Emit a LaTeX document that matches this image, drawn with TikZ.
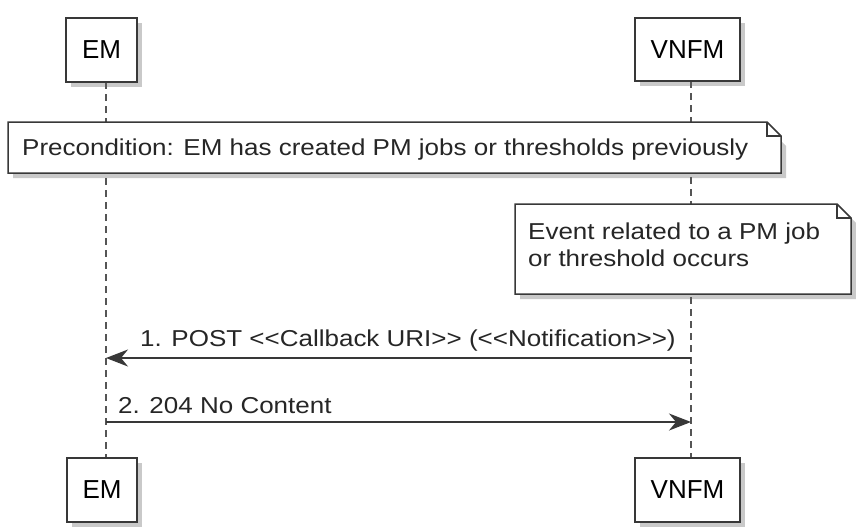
\documentclass[tikz,border=0pt]{standalone}
\usepackage{fontspec}
\setmainfont{Liberation Sans}
\newfontfamily\msgfont[FakeStretch=1.13]{Liberation Sans}
\usetikzlibrary{shadows,arrows.meta}
\definecolor{edge}{HTML}{383838}
\definecolor{lifec}{HTML}{555555}
\tikzset{
  x=1pt, y=-1pt,
  partbox/.style={draw=edge, line width=1.5pt, fill=white, inner sep=0pt,
    font=\fontsize{26}{30}\selectfont,
    drop shadow={shadow xshift=5pt, shadow yshift=-5pt, opacity=0.35, fill=black!60}},
  lifeline/.style={draw=lifec, line width=1.3pt, dash pattern=on 7pt off 5pt},
  notebox/.style={draw=edge, line width=1.5pt, fill=white},
  noteshadow/.style={fill=black!60, opacity=0.35},
  msgtext/.style={font=\msgfont\fontsize{23}{26.5}\selectfont, text=black!85, inner sep=0pt},
  msg/.style={draw=edge, line width=1.5pt, -{Stealth[length=22pt, width=17pt, inset=7pt]}}
}
\begin{document}
\begin{tikzpicture}
\useasboundingbox (0,0) rectangle (856,528);
\fill[white] (0,0) rectangle (856,528);
% lifelines
\coordinate (emTop) at (106,82);
\coordinate (emBot) at (106,458);
\coordinate (vnTop) at (691,81);
\coordinate (vnBot) at (691,458);
\draw[lifeline] (emTop) -- (emBot);
\draw[lifeline] (vnTop) -- (vnBot);
% participants
\node[partbox, minimum width=71pt, minimum height=64pt] (em1) at (101.5,50) {EM};
\node[partbox, minimum width=105pt, minimum height=63pt] (vn1) at (687.5,49.5) {VNFM};
\node[partbox, minimum width=70pt, minimum height=64pt] (em2) at (102,490) {EM};
\node[partbox, minimum width=105pt, minimum height=64pt] (vn2) at (687.5,490) {VNFM};
% note 1
\fill[noteshadow] (13,127) -- (767,127) -- (786,146) -- (786,178) -- (13,178) -- cycle;
\draw[notebox] (8,122) -- (767,122) -- (781,136) -- (781,173) -- (8,173) -- cycle;
\draw[edge, line width=1.5pt] (767,122) -- (767,136) -- (781,136);
\node[msgtext, anchor=west] (n1) at (22,150) {Precondition: EM has created PM jobs or thresholds previously};
% note 2
\fill[noteshadow] (520,209) -- (842,209) -- (856,223) -- (856,299) -- (520,299) -- cycle;
\draw[notebox] (515,204) -- (837,204) -- (851,218) -- (851,294) -- (515,294) -- cycle;
\draw[edge, line width=1.5pt] (837,204) -- (837,218) -- (851,218);
\node[msgtext, anchor=west, align=left] (n2) at (528,245) {Event related to a PM job\\or threshold occurs};
% messages
\coordinate (m1s) at (691,358);
\coordinate (m1e) at (106,358);
\draw[msg] (m1s) -- (m1e);
\node[msgtext, anchor=west] (t1) at (140,341) {1. POST <{}<Callback URI>{}> (<{}<Notification>{}>)};
\coordinate (m2s) at (106,422);
\coordinate (m2e) at (691,422);
\draw[msg] (m2s) -- (m2e);
\node[msgtext, anchor=west] (t2) at (118,406) {2. 204 No Content};
\end{tikzpicture}
\end{document}
